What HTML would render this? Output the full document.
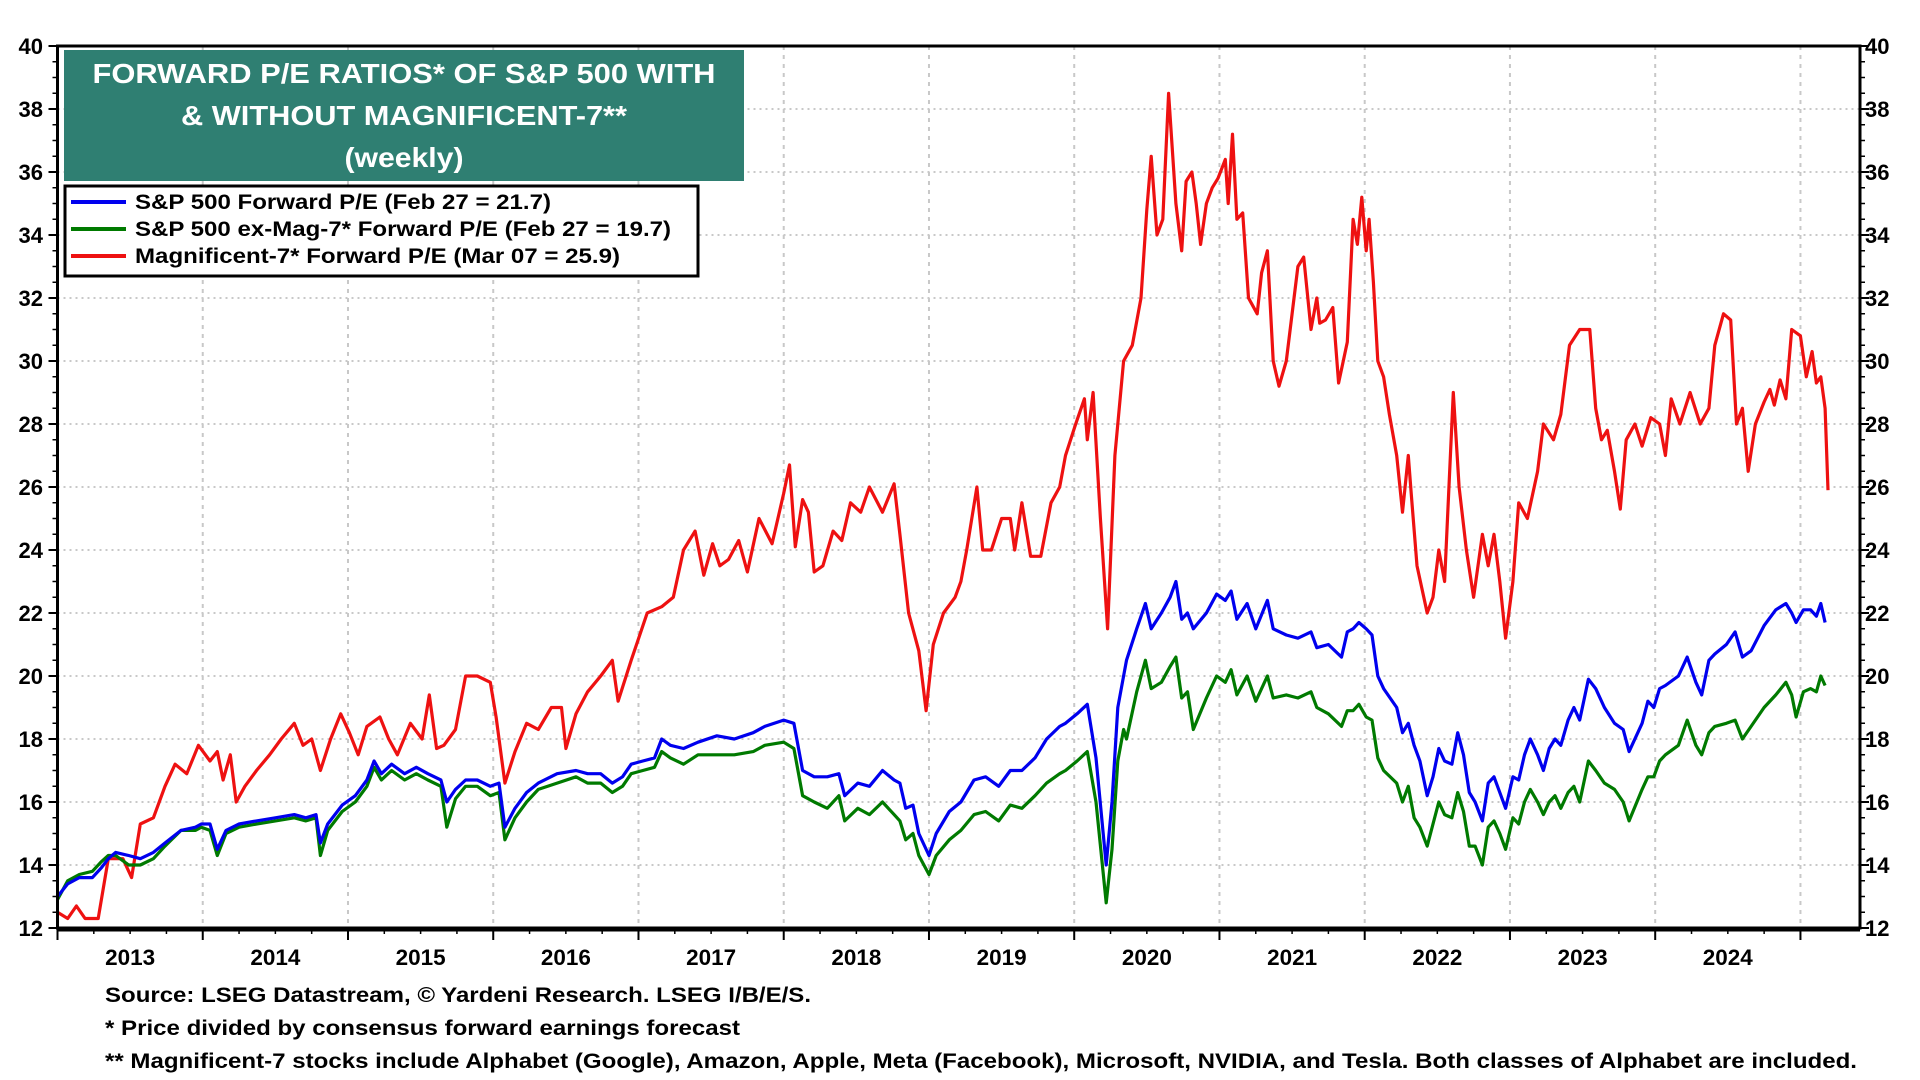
<!DOCTYPE html>
<html><head><meta charset="utf-8"><style>
html,body{margin:0;padding:0;background:#fff;}
svg{display:block;font-family:"Liberation Sans",Arial,sans-serif;font-weight:bold;}
</style></head><body>
<svg id="chart" width="1920" height="1080" viewBox="0 0 1920 1080" xmlns="http://www.w3.org/2000/svg">
<g id="grid"></g>
<g id="series"></g>
<g id="axes"></g>
<rect x="64" y="50" width="680" height="131" fill="#2f7f72"/>
<text x="404" y="83" fill="#fff" font-size="28" text-anchor="middle" textLength="623" lengthAdjust="spacingAndGlyphs">FORWARD P/E RATIOS* OF S&amp;P 500 WITH</text>
<text x="404" y="125" fill="#fff" font-size="28" text-anchor="middle" textLength="446" lengthAdjust="spacingAndGlyphs">&amp; WITHOUT MAGNIFICENT-7**</text>
<text x="404" y="167" fill="#fff" font-size="28" text-anchor="middle" textLength="119" lengthAdjust="spacingAndGlyphs">(weekly)</text>
<g>
<rect x="65" y="186" width="633" height="90" fill="#fff" stroke="#000" stroke-width="3"/>
<g><line x1="71" y1="202" x2="126" y2="202" stroke="#0000ee" stroke-width="4"/><text x="135" y="209" font-size="21" textLength="416" lengthAdjust="spacingAndGlyphs">S&amp;P 500 Forward P/E (Feb 27 = 21.7)</text></g>
<g><line x1="71" y1="229" x2="126" y2="229" stroke="#007a00" stroke-width="4"/><text x="135" y="236" font-size="21" textLength="536" lengthAdjust="spacingAndGlyphs">S&amp;P 500 ex-Mag-7* Forward P/E (Feb 27 = 19.7)</text></g>
<g><line x1="71" y1="256" x2="126" y2="256" stroke="#ee1111" stroke-width="4"/><text x="135" y="263" font-size="21" textLength="485" lengthAdjust="spacingAndGlyphs">Magnificent-7* Forward P/E (Mar 07 = 25.9)</text></g>
</g>
<text x="105" y="1002" font-size="21" textLength="706" lengthAdjust="spacingAndGlyphs">Source: LSEG Datastream, © Yardeni Research. LSEG I/B/E/S.</text>
<text x="105" y="1035" font-size="21" textLength="635" lengthAdjust="spacingAndGlyphs">* Price divided by consensus forward earnings forecast</text>
<text x="105" y="1068" font-size="21" textLength="1752" lengthAdjust="spacingAndGlyphs">** Magnificent-7 stocks include Alphabet (Google), Amazon, Apple, Meta (Facebook), Microsoft, NVIDIA, and Tesla. Both classes of Alphabet are included.</text>
</svg>
<script>
const yTicks = [12,14,16,18,20,22,24,26,28,30,32,34,36,38,40];
const yearLabels = [2013,2014,2015,2016,2017,2018,2019,2020,2021,2022,2023,2024];
const spDates = [2013.00,2013.07,2013.15,2013.24,2013.30,2013.35,2013.40,2013.49,2013.57,2013.66,2013.74,2013.85,2013.95,2013.99,2014.05,2014.10,2014.16,2014.25,2014.37,2014.50,2014.63,2014.71,2014.78,2014.81,2014.86,2014.96,2015.05,2015.13,2015.18,2015.23,2015.30,2015.39,2015.47,2015.55,2015.64,2015.68,2015.74,2015.81,2015.89,2015.98,2016.04,2016.08,2016.15,2016.23,2016.31,2016.44,2016.57,2016.65,2016.74,2016.82,2016.89,2016.95,2017.03,2017.11,2017.16,2017.22,2017.31,2017.41,2017.54,2017.66,2017.79,2017.87,2018.00,2018.07,2018.13,2018.21,2018.30,2018.38,2018.42,2018.51,2018.59,2018.68,2018.76,2018.80,2018.84,2018.89,2018.93,2019.00,2019.05,2019.14,2019.22,2019.31,2019.39,2019.48,2019.56,2019.64,2019.73,2019.81,2019.90,2019.94,2020.02,2020.09,2020.15,2020.22,2020.26,2020.30,2020.34,2020.36,2020.43,2020.49,2020.53,2020.60,2020.66,2020.70,2020.74,2020.78,2020.82,2020.91,2020.98,2021.04,2021.08,2021.12,2021.19,2021.25,2021.33,2021.37,2021.46,2021.54,2021.63,2021.67,2021.75,2021.84,2021.88,2021.92,2021.96,2022.01,2022.05,2022.09,2022.13,2022.22,2022.26,2022.30,2022.34,2022.38,2022.43,2022.47,2022.51,2022.55,2022.60,2022.64,2022.68,2022.72,2022.76,2022.81,2022.85,2022.89,2022.93,2022.97,2023.02,2023.06,2023.10,2023.14,2023.19,2023.23,2023.27,2023.31,2023.35,2023.40,2023.44,2023.48,2023.54,2023.59,2023.65,2023.72,2023.78,2023.82,2023.91,2023.95,2023.99,2024.03,2024.07,2024.16,2024.22,2024.28,2024.32,2024.37,2024.41,2024.49,2024.55,2024.60,2024.66,2024.75,2024.83,2024.90,2024.94,2024.97,2025.02,2025.07,2025.11,2025.14,2025.17];
const spValues = [13,13.4,13.6,13.6,13.9,14.2,14.4,14.3,14.2,14.4,14.7,15.1,15.2,15.3,15.3,14.5,15.1,15.3,15.4,15.5,15.6,15.5,15.6,14.7,15.3,15.9,16.2,16.7,17.3,16.9,17.2,16.9,17.1,16.9,16.7,16,16.4,16.7,16.7,16.5,16.6,15.2,15.8,16.3,16.6,16.9,17,16.9,16.9,16.6,16.8,17.2,17.3,17.4,18,17.8,17.7,17.9,18.1,18.0,18.2,18.4,18.6,18.5,17,16.8,16.8,16.9,16.2,16.6,16.5,17,16.7,16.6,15.8,15.9,15,14.3,15,15.7,16,16.7,16.8,16.5,17,17,17.4,18,18.4,18.5,18.8,19.1,17.4,14,16,19,20,20.5,21.5,22.3,21.5,22,22.5,23,21.8,22,21.5,22,22.6,22.4,22.7,21.8,22.3,21.5,22.4,21.5,21.3,21.2,21.4,20.9,21,20.6,21.4,21.5,21.7,21.5,21.3,20,19.6,19,18.2,18.5,17.8,17.3,16.2,16.8,17.7,17.3,17.2,18.2,17.5,16.3,16,15.4,16.6,16.8,16.3,15.8,16.8,16.7,17.5,18.0,17.5,17,17.7,18,17.8,18.6,19,18.6,19.9,19.6,19,18.5,18.3,17.6,18.5,19.2,19,19.6,19.7,20,20.6,19.8,19.4,20.5,20.7,21,21.4,20.6,20.8,21.6,22.1,22.3,22,21.7,22.1,22.1,21.9,22.3,21.7];
const exMagValues = [12.9,13.5,13.7,13.8,14.1,14.3,14.3,14.0,14.0,14.2,14.6,15.1,15.1,15.2,15.1,14.3,15.0,15.2,15.3,15.4,15.5,15.4,15.5,14.3,15.1,15.7,16.0,16.5,17.1,16.7,17.0,16.7,16.9,16.7,16.5,15.2,16.1,16.5,16.5,16.2,16.3,14.8,15.5,16.0,16.4,16.6,16.8,16.6,16.6,16.3,16.5,16.9,17.0,17.1,17.6,17.4,17.2,17.5,17.5,17.5,17.6,17.8,17.9,17.7,16.2,16.0,15.8,16.2,15.4,15.8,15.6,16.0,15.6,15.4,14.8,15.0,14.3,13.7,14.3,14.8,15.1,15.6,15.7,15.4,15.9,15.8,16.2,16.6,16.9,17.0,17.3,17.6,16.0,12.8,14.5,17.3,18.3,18.0,19.5,20.5,19.6,19.8,20.3,20.6,19.3,19.5,18.3,19.3,20.0,19.8,20.2,19.4,20.0,19.2,20.0,19.3,19.4,19.3,19.5,19.0,18.8,18.4,18.9,18.9,19.1,18.7,18.6,17.4,17.0,16.6,16.0,16.5,15.5,15.2,14.6,15.3,16.0,15.6,15.5,16.3,15.7,14.6,14.6,14.0,15.2,15.4,15.0,14.5,15.5,15.3,16.0,16.4,16.0,15.6,16.0,16.2,15.8,16.3,16.5,16.0,17.3,17.0,16.6,16.4,16.0,15.4,16.4,16.8,16.8,17.3,17.5,17.8,18.6,17.8,17.5,18.2,18.4,18.5,18.6,18.0,18.4,19.0,19.4,19.8,19.4,18.7,19.5,19.6,19.5,20.0,19.7];
const magDates = [2013.00,2013.07,2013.13,2013.19,2013.28,2013.35,2013.45,2013.51,2013.57,2013.66,2013.74,2013.81,2013.89,2013.97,2014.05,2014.10,2014.14,2014.19,2014.23,2014.29,2014.37,2014.46,2014.54,2014.63,2014.69,2014.75,2014.81,2014.88,2014.95,2015.01,2015.07,2015.13,2015.22,2015.28,2015.34,2015.43,2015.51,2015.56,2015.61,2015.66,2015.74,2015.81,2015.89,2015.98,2016.02,2016.08,2016.15,2016.23,2016.31,2016.40,2016.47,2016.50,2016.57,2016.65,2016.74,2016.82,2016.86,2016.95,2017.06,2017.16,2017.24,2017.31,2017.39,2017.45,2017.51,2017.56,2017.62,2017.69,2017.75,2017.83,2017.92,2018.00,2018.04,2018.08,2018.13,2018.17,2018.21,2018.27,2018.34,2018.40,2018.46,2018.53,2018.59,2018.68,2018.76,2018.80,2018.86,2018.93,2018.98,2019.03,2019.10,2019.18,2019.22,2019.26,2019.33,2019.37,2019.43,2019.50,2019.56,2019.59,2019.64,2019.70,2019.77,2019.84,2019.90,2019.94,2020.01,2020.07,2020.09,2020.13,2020.18,2020.23,2020.28,2020.30,2020.34,2020.40,2020.46,2020.50,2020.53,2020.57,2020.61,2020.65,2020.70,2020.74,2020.77,2020.81,2020.84,2020.87,2020.91,2020.95,2020.99,2021.04,2021.06,2021.09,2021.12,2021.16,2021.20,2021.26,2021.29,2021.33,2021.37,2021.41,2021.46,2021.54,2021.58,2021.63,2021.67,2021.69,2021.73,2021.78,2021.82,2021.88,2021.92,2021.95,2021.98,2022.01,2022.03,2022.06,2022.09,2022.13,2022.17,2022.22,2022.26,2022.30,2022.32,2022.36,2022.43,2022.47,2022.51,2022.55,2022.61,2022.65,2022.70,2022.75,2022.81,2022.85,2022.89,2022.93,2022.97,2023.02,2023.06,2023.12,2023.19,2023.23,2023.30,2023.35,2023.41,2023.48,2023.55,2023.59,2023.63,2023.67,2023.72,2023.76,2023.80,2023.86,2023.91,2023.97,2024.03,2024.07,2024.11,2024.17,2024.24,2024.31,2024.37,2024.41,2024.47,2024.52,2024.56,2024.60,2024.64,2024.69,2024.75,2024.79,2024.82,2024.86,2024.90,2024.94,2025.00,2025.04,2025.08,2025.11,2025.14,2025.17,2025.19];
const magValues = [12.5,12.3,12.7,12.3,12.3,14.2,14.2,13.6,15.3,15.5,16.5,17.2,16.9,17.8,17.3,17.6,16.7,17.5,16,16.5,17,17.5,18,18.5,17.8,18,17,18,18.8,18.2,17.5,18.4,18.7,18,17.5,18.5,18,19.4,17.7,17.8,18.3,20,20,19.8,18.7,16.6,17.6,18.5,18.3,19,19,17.7,18.8,19.5,20,20.5,19.2,20.5,22,22.2,22.5,24,24.6,23.2,24.2,23.5,23.7,24.3,23.3,25,24.2,25.8,26.7,24.1,25.6,25.2,23.3,23.5,24.6,24.3,25.5,25.2,26,25.2,26.1,24.5,22,20.8,18.9,21,22,22.5,23,24,26,24,24,25,25,24,25.5,23.8,23.8,25.5,26,27,28,28.8,27.5,29,25,21.5,27,28,30,30.5,32,34.8,36.5,34,34.5,38.5,35,33.5,35.7,36,35,33.7,35,35.5,35.8,36.4,35,37.2,34.5,34.7,32,31.5,32.8,33.5,30,29.2,30,33,33.3,31,32,31.2,31.3,31.7,29.3,30.6,34.5,33.7,35.2,33.5,34.5,32.5,30,29.5,28.3,27,25.2,27,25.8,23.5,22,22.5,24,23,29,26,24,22.5,24.5,23.5,24.5,23,21.2,23,25.5,25,26.5,28,27.5,28.3,30.5,31,31,28.5,27.5,27.8,26.5,25.3,27.5,28,27.3,28.2,28,27,28.8,28,29,28,28.5,30.5,31.5,31.3,28,28.5,26.5,28,28.7,29.1,28.6,29.4,28.8,31,30.8,29.5,30.3,29.3,29.5,28.5,25.9];

const NS='http://www.w3.org/2000/svg';
const L=57.5,R=1860,T=46,B=928;
function xs(y){return L+(y-2013)*(R-L)/(2025.41-2013);}
function ys(v){return B-(v-12)*(B-T)/28;}
function mk(tag,attrs,parent){const e=document.createElementNS(NS,tag);for(const k in attrs)e.setAttribute(k,attrs[k]);parent.appendChild(e);return e;}
const grid=document.getElementById('grid'),axes=document.getElementById('axes'),series=document.getElementById('series');
yTicks.forEach(v=>{
  if(v>12&&v<40){const g=mk('line',{x1:L,x2:R,y1:ys(v),y2:ys(v),stroke:'#c8c8c8','stroke-width':2,'stroke-dasharray':'2 4'},grid);
  
  }
  const t1=mk('text',{x:43,y:ys(v)+8,'font-size':22,'text-anchor':'end'},axes);t1.textContent=v;
  
  
  const t2=mk('text',{x:1865,y:ys(v)+8,'font-size':22},axes);t2.textContent=v;
  
  
  mk('line',{x1:L-9,x2:L,y1:ys(v),y2:ys(v),stroke:'#000','stroke-width':2},axes);
  mk('line',{x1:R,x2:R+9,y1:ys(v),y2:ys(v),stroke:'#000','stroke-width':2},axes);
});
for(let v=12.5;v<40;v+=0.5){if(v%2===0)continue;
  mk('line',{x1:L-5,x2:L,y1:ys(v),y2:ys(v),stroke:'#000','stroke-width':1.5},axes);
  mk('line',{x1:R,x2:R+5,y1:ys(v),y2:ys(v),stroke:'#000','stroke-width':1.5},axes);}
yearLabels.forEach(yr=>{
  if(yr>2013){const g=mk('line',{x1:xs(yr),x2:xs(yr),y1:T,y2:B,stroke:'#c8c8c8','stroke-width':2,'stroke-dasharray':'4 5'},grid);
  
  }
  mk('line',{x1:xs(yr),x2:xs(yr),y1:B,y2:B+12,stroke:'#000','stroke-width':2},axes);
  for(let q=1;q<4;q++)mk('line',{x1:xs(yr+q/4),x2:xs(yr+q/4),y1:B,y2:B+6,stroke:'#000','stroke-width':1.5},axes);
  const t=mk('text',{x:xs(yr+0.5),y:965,'font-size':22,'text-anchor':'middle',textLength:50,lengthAdjust:'spacingAndGlyphs'},axes);t.textContent=yr;
  
  
});
mk('line',{x1:xs(2025),x2:xs(2025),y1:T,y2:B,stroke:'#c8c8c8','stroke-width':2,'stroke-dasharray':'4 5'},grid);
mk('line',{x1:xs(2025),x2:xs(2025),y1:B,y2:B+12,stroke:'#000','stroke-width':2},axes);
const frame=mk('rect',{x:L,y:T,width:R-L,height:B-T,fill:'none',stroke:'#000','stroke-width':3},axes);


const base=mk('line',{x1:L,x2:R,y1:B+1,y2:B+1,stroke:'#000','stroke-width':5},axes);


function drawLine(dates,vals,color,name){
  const d=dates.map((t,i)=>(i?'L':'M')+xs(t).toFixed(1)+' '+ys(vals[i]).toFixed(1)).join(' ');
  const p=mk('path',{d:d,fill:'none',stroke:color,'stroke-width':3.2,'stroke-linejoin':'round'},series);
  
  
}
drawLine(magDates,magValues,'#ee1111','mag7-pe-line');
drawLine(spDates,exMagValues,'#007a00','ex-mag7-pe-line');
drawLine(spDates,spValues,'#0000ee','sp500-pe-line');
</script>
</body></html>
